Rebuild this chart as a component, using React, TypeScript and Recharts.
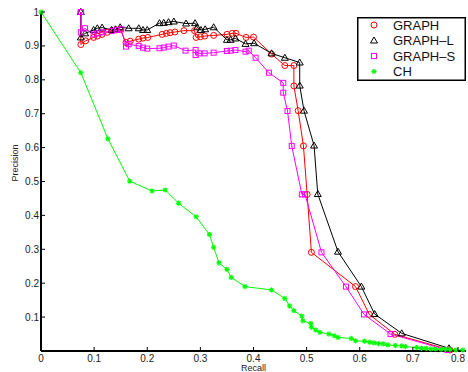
import { LineChart, Line, XAxis, YAxis, Legend } from 'recharts'

const xTicks = [0, 0.1, 0.2, 0.3, 0.4, 0.5, 0.6, 0.7, 0.8]
const yTicks = [0.1, 0.2, 0.3, 0.4, 0.5, 0.6, 0.7, 0.8, 0.9, 1]

const graphRecall = [0.075, 0.075, 0.084, 0.099, 0.106, 0.115, 0.125, 0.133, 0.142, 0.149, 0.16, 0.168, 0.184, 0.192, 0.201, 0.228, 0.236, 0.243, 0.252, 0.269, 0.289, 0.292, 0.3, 0.308, 0.325, 0.35, 0.36, 0.367, 0.386, 0.4, 0.434, 0.459, 0.476, 0.476, 0.484, 0.494, 0.501, 0.509, 0.592, 0.618, 0.666, 0.77]
const graphPrecision = [1, 0.904, 0.915, 0.925, 0.929, 0.934, 0.94, 0.945, 0.947, 0.949, 0.91, 0.914, 0.92, 0.923, 0.925, 0.934, 0.937, 0.939, 0.941, 0.945, 0.945, 0.925, 0.927, 0.929, 0.931, 0.934, 0.937, 0.937, 0.925, 0.926, 0.876, 0.842, 0.842, 0.782, 0.709, 0.605, 0.462, 0.291, 0.19, 0.108, 0.049, 0.003]

const graphLRecall = [0.075, 0.075, 0.083, 0.099, 0.106, 0.115, 0.133, 0.14, 0.149, 0.165, 0.184, 0.192, 0.2, 0.223, 0.231, 0.24, 0.25, 0.273, 0.29, 0.294, 0.301, 0.309, 0.325, 0.35, 0.357, 0.366, 0.385, 0.401, 0.434, 0.459, 0.487, 0.487, 0.495, 0.514, 0.521, 0.559, 0.603, 0.628, 0.679, 0.768]
const graphLPrecision = [1, 0.925, 0.937, 0.947, 0.952, 0.954, 0.947, 0.949, 0.955, 0.952, 0.952, 0.947, 0.947, 0.967, 0.968, 0.97, 0.972, 0.966, 0.967, 0.955, 0.947, 0.949, 0.955, 0.918, 0.918, 0.922, 0.906, 0.908, 0.878, 0.865, 0.851, 0.783, 0.709, 0.606, 0.463, 0.293, 0.19, 0.109, 0.052, 0.008]

const graphSRecall = [0.075, 0.075, 0.083, 0.099, 0.106, 0.115, 0.133, 0.143, 0.151, 0.16, 0.165, 0.184, 0.192, 0.2, 0.223, 0.231, 0.24, 0.25, 0.272, 0.291, 0.291, 0.298, 0.308, 0.325, 0.35, 0.357, 0.366, 0.385, 0.391, 0.404, 0.429, 0.456, 0.456, 0.464, 0.472, 0.491, 0.497, 0.528, 0.574, 0.608, 0.658, 0.765]
const graphSPrecision = [1, 0.94, 0.952, 0.934, 0.937, 0.94, 0.944, 0.947, 0.949, 0.898, 0.905, 0.9, 0.895, 0.892, 0.893, 0.895, 0.898, 0.901, 0.886, 0.888, 0.873, 0.878, 0.878, 0.88, 0.885, 0.886, 0.888, 0.883, 0.886, 0.865, 0.821, 0.791, 0.762, 0.708, 0.605, 0.462, 0.462, 0.291, 0.19, 0.108, 0.05, 0.003]

const chRecall = [0, 0.075, 0.126, 0.167, 0.209, 0.234, 0.259, 0.292, 0.317, 0.325, 0.335, 0.35, 0.358, 0.384, 0.434, 0.459, 0.468, 0.476, 0.491, 0.493, 0.508, 0.509, 0.517, 0.525, 0.542, 0.552, 0.559, 0.584, 0.592, 0.609, 0.619, 0.627, 0.635, 0.644, 0.653, 0.667, 0.679, 0.686, 0.707, 0.716, 0.725, 0.734, 0.743, 0.753, 0.762, 0.77, 0.781, 0.794]
const chPrecision = [1, 0.821, 0.626, 0.501, 0.472, 0.475, 0.436, 0.396, 0.344, 0.306, 0.26, 0.241, 0.217, 0.19, 0.18, 0.155, 0.133, 0.119, 0.103, 0.089, 0.081, 0.07, 0.062, 0.055, 0.05, 0.045, 0.04, 0.037, 0.03, 0.029, 0.026, 0.024, 0.022, 0.021, 0.018, 0.016, 0.015, 0.013, 0.01, 0.008, 0.008, 0.006, 0.006, 0.005, 0.005, 0.005, 0.003, 0.003]

const zip = (xs: number[], ys: number[]) => xs.map((x, i) => ({ x, y: ys[i] }))

const series = [
  { name: 'GRAPH', color: '#ff0000', marker: 'circle', data: zip(graphRecall, graphPrecision) },
  { name: 'GRAPH–L', color: '#000000', marker: 'triangle', data: zip(graphLRecall, graphLPrecision) },
  { name: 'GRAPH–S', color: '#ff00ff', marker: 'square', data: zip(graphSRecall, graphSPrecision) },
  { name: 'CH', color: '#00ff00', marker: 'star', data: zip(chRecall, chPrecision) },
]

const font = '"Liberation Sans", Arial, Helvetica, sans-serif'

function Marker({ type, cx, cy, color }: { type: string; cx: number; cy: number; color: string }) {
  if (type === 'circle') {
    return <circle cx={cx} cy={cy} r={3} fill="none" stroke={color} strokeWidth={1} />
  }
  if (type === 'triangle') {
    return (
      <polygon
        points={`${cx},${cy - 3.5} ${cx - 3.5},${cy + 2.5} ${cx + 3.5},${cy + 2.5}`}
        fill="none"
        stroke={color}
        strokeWidth={1}
      />
    )
  }
  if (type === 'square') {
    return <rect x={cx - 2.5} y={cy - 2.5} width={5} height={5} fill="none" stroke={color} strokeWidth={1} />
  }
  // asterisk
  const r = 2.6
  const d = r * 0.707
  return (
    <g stroke={color} strokeWidth={1.2}>
      <line x1={cx - r} y1={cy} x2={cx + r} y2={cy} />
      <line x1={cx} y1={cy - r} x2={cx} y2={cy + r} />
      <line x1={cx - d} y1={cy - d} x2={cx + d} y2={cy + d} />
      <line x1={cx - d} y1={cy + d} x2={cx + d} y2={cy - d} />
    </g>
  )
}

const fmt = (v: number) => (v === 0 ? '0' : v === 1 ? '1' : v.toFixed(1))

const BottomTick = (props: any) => {
  const { x, y, payload } = props
  return (
    <g>
      <line x1={x} y1={y} x2={x} y2={y - 4} stroke="#000" />
      <text x={x} y={y + 11} textAnchor="middle" fontSize={10} fontFamily={font} fill="#222">
        {fmt(payload.value)}
      </text>
    </g>
  )
}

const LeftTick = (props: any) => {
  const { x, y, payload } = props
  return (
    <g>
      <line x1={x} y1={y} x2={x + 4} y2={y} stroke="#000" />
      <text x={x - 2} y={y + 3.5} textAnchor="end" fontSize={10} fontFamily={font} fill="#222">
        {fmt(payload.value)}
      </text>
    </g>
  )
}

const TopTick = (props: any) => {
  const { x, y } = props
  return <line x1={x} y1={y} x2={x} y2={y + 4} stroke="#000" />
}

const RightTick = (props: any) => {
  const { x, y } = props
  return <line x1={x} y1={y} x2={x - 4} y2={y} stroke="#000" />
}

function LegendBox() {
  return (
    <svg width={109} height={64} style={{ display: 'block' }}>
      <rect x={0.75} y={0.75} width={107.5} height={62.5} fill="#fff" stroke="#000" strokeWidth={1.5} />
      {series.map((s, i) => (
        <g key={s.name}>
          <Marker type={s.marker} cx={17} cy={8 + i * 15.5} color={s.color} />
          <text x={36} y={12.5 + i * 15.5} fontSize={13} fontFamily={font} fill="#111">
            {s.name}
          </text>
        </g>
      ))}
    </svg>
  )
}

export default function App() {
  return (
    <div style={{ position: 'absolute', left: 0, top: 0, width: 468, height: 372, background: '#fff' }}>
      <LineChart width={468} height={372} margin={{ top: 12, right: 2, bottom: 0, left: 11 }}>
        <XAxis
          dataKey="x"
          type="number"
          domain={[0, 0.8]}
          ticks={xTicks}
          height={21}
          tickSize={0}
          tickMargin={0}
          tickLine={false}
          tick={BottomTick}
          axisLine={{ stroke: '#000', strokeWidth: 2 }}
          label={{ value: 'Recall', position: 'insideBottom', offset: 1, fontSize: 9, fontFamily: font, fill: '#222' }}
        />
        <XAxis
          xAxisId="top"
          orientation="top"
          dataKey="x"
          type="number"
          domain={[0, 0.8]}
          ticks={xTicks}
          height={0}
          tickSize={0}
          tickMargin={0}
          tickLine={false}
          tick={TopTick}
          axisLine={{ stroke: '#000', strokeWidth: 1 }}
        />
        <YAxis
          type="number"
          domain={[0, 1]}
          ticks={yTicks}
          width={30}
          tickSize={0}
          tickMargin={0}
          tickLine={false}
          tick={LeftTick}
          axisLine={{ stroke: '#000', strokeWidth: 2 }}
          label={{ value: 'Precision', angle: -90, position: 'insideLeft', offset: 4, fontSize: 9, fontFamily: font, fill: '#222' }}
        />
        <YAxis
          yAxisId="right"
          orientation="right"
          type="number"
          domain={[0, 1]}
          ticks={yTicks}
          width={0}
          tickSize={0}
          tickMargin={0}
          tickLine={false}
          tick={RightTick}
          axisLine={{ stroke: '#000', strokeWidth: 1 }}
        />
        {series.map((s) => (
          <Line
            key={s.name}
            data={s.data}
            dataKey="y"
            name={s.name}
            stroke={s.color}
            strokeWidth={1}
            isAnimationActive={false}
            dot={(p: any) => (
              <Marker key={`${s.name}-${p.index}`} type={s.marker} cx={p.cx} cy={p.cy} color={s.color} />
            )}
            activeDot={false}
          />
        ))}
        <Legend
          layout="vertical"
          align="center"
          verticalAlign="middle"
          content={() => <LegendBox />}
          wrapperStyle={{ left: 357, top: 17, width: 109, height: 64 }}
        />
      </LineChart>
    </div>
  )
}
